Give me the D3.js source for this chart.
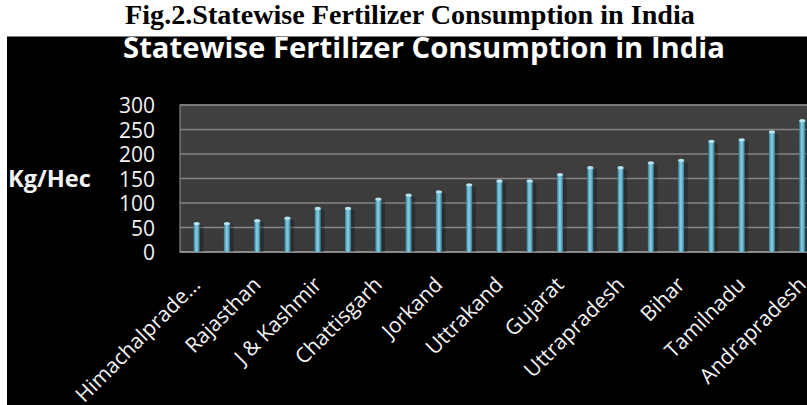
<!DOCTYPE html>
<html>
<head>
<meta charset="utf-8">
<script src="https://cdn.jsdelivr.net/npm/d3@7"></script>
<style>
  html, body { margin: 0; padding: 0; background: #ffffff; }
  svg { display: block; }
</style>
</head>
<body>
<script>
// ---- data ----
const states = [
  "Himachalpradesh", "Assam", "Rajasthan", "Orissa", "J & Kashmir", "Madhyapradesh",
  "Chattisgarh", "Kerala", "Jorkand", "Maharashtra", "Uttrakand", "Karnataka",
  "Gujarat", "Westbengal", "Uttrapradesh", "Haryana", "Bihar", "Pondicherry",
  "Tamilnadu", "Punjab", "Andrapradesh"
];
const shownLabels = [
  "Himachalprade...", "", "Rajasthan", "", "J & Kashmir", "",
  "Chattisgarh", "", "Jorkand", "", "Uttrakand", "",
  "Gujarat", "", "Uttrapradesh", "", "Bihar", "",
  "Tamilnadu", "", "Andrapradesh"
];
const kgPerHec = [
  58, 58, 64, 69, 89, 89,
  108, 116, 123, 137, 145, 145,
  158, 172, 172, 182, 187, 226,
  229, 245, 268
];
const yTicks = [0, 50, 100, 150, 200, 250, 300];
const figTitle = "Fig.2.Statewise Fertilizer Consumption in India";
const chartTitle = "Statewise Fertilizer Consumption in India";
const yAxisTitle = "Kg/Hec";

// ---- layout ----
const W = 807, H = 405;
const plot = { left: 180, top: 105, bottom: 252, right: 817.4 };

const svg = d3.select("body").append("svg")
  .attr("width", W).attr("height", H);

const defs = svg.append("defs");
const barGrad = defs.append("linearGradient").attr("id", "barGrad")
  .attr("x1", "0%").attr("x2", "100%").attr("y1", "0%").attr("y2", "0%");
barGrad.append("stop").attr("offset", "0%").attr("stop-color", "#327d98");
barGrad.append("stop").attr("offset", "40%").attr("stop-color", "#84cbe1");
barGrad.append("stop").attr("offset", "60%").attr("stop-color", "#7ac2da");
barGrad.append("stop").attr("offset", "100%").attr("stop-color", "#2f748d");

const plotGrad = defs.append("linearGradient").attr("id", "plotGrad")
  .attr("x1", "0%").attr("x2", "0%").attr("y1", "0%").attr("y2", "100%");
plotGrad.append("stop").attr("offset", "0%").attr("stop-color", "#404040");
plotGrad.append("stop").attr("offset", "100%").attr("stop-color", "#3a3a3a");

// white page + black chart area
svg.append("rect").attr("x", 0).attr("y", 0).attr("width", W).attr("height", H).attr("fill", "#ffffff");
svg.append("rect").attr("x", 7).attr("y", 36.5).attr("width", W - 7).attr("height", H - 36.5).attr("fill", "#000000");

// fit text width helper
function fitWidth(sel, target) {
  const len = sel.node().getComputedTextLength();
  const fs = parseFloat(sel.attr("font-size"));
  sel.attr("font-size", (fs * target / len).toFixed(2));
}

// figure caption
const fig = svg.append("text")
  .attr("x", 410).attr("y", 23.5)
  .attr("text-anchor", "middle")
  .attr("font-family", "'Liberation Serif', 'DejaVu Serif', serif")
  .attr("font-weight", "bold")
  .attr("font-size", 22)
  .attr("fill", "#000000")
  .text(figTitle);
fitWidth(fig, 570);

// chart title
const ct = svg.append("text")
  .attr("x", 424).attr("y", 58)
  .attr("text-anchor", "middle")
  .attr("font-family", "'Open Sans', sans-serif")
  .attr("font-weight", "bold")
  .attr("font-size", 26)
  .attr("fill", "#ffffff")
  .text(chartTitle);
fitWidth(ct, 602);

// scales
const x = d3.scaleBand()
  .domain(states)
  .range([181.5, plot.right])
  .paddingInner(0.8)
  .paddingOuter(0.4);

const y = d3.scaleLinear()
  .domain([0, 300])
  .range([plot.bottom, plot.top]);

// plot area
svg.append("rect")
  .attr("x", plot.left).attr("y", plot.top)
  .attr("width", plot.right - plot.left).attr("height", plot.bottom - plot.top)
  .attr("fill", "url(#plotGrad)")
  .attr("stroke", "#858585").attr("stroke-width", 1.2);

// gridlines
svg.append("g")
  .selectAll("line")
  .data(yTicks)
  .join("line")
  .attr("x1", plot.left).attr("x2", plot.right)
  .attr("y1", d => y(d)).attr("y2", d => y(d))
  .attr("stroke", d => d === 0 ? "#9a9a9a" : "#858585")
  .attr("stroke-width", 1.3);

// y axis
const yAxis = d3.axisLeft(y).tickValues(yTicks).tickSize(0).tickPadding(0);
const yg = svg.append("g").attr("transform", "translate(155,0)").call(yAxis);
yg.select(".domain").remove();
yg.selectAll("text")
  .attr("font-family", "'Open Sans', sans-serif")
  .attr("font-size", 21)
  .attr("fill", "#f2f2f2")
  .attr("dy", "0.36em");

// y axis title
const yt = svg.append("text")
  .attr("x", 8).attr("y", 187)
  .attr("font-family", "'Open Sans', sans-serif")
  .attr("font-weight", "bold")
  .attr("font-size", 22)
  .attr("fill", "#f2f2f2")
  .text(yAxisTitle);
fitWidth(yt, 83);

// bars (cylinders)
const bw = x.bandwidth();
const bars = svg.append("g");
bars.selectAll("rect.shadow")
  .data(kgPerHec)
  .join("rect")
  .attr("class", "shadow")
  .attr("x", (d, i) => x(states[i]) + bw * 0.6)
  .attr("y", d => y(d) + 2)
  .attr("width", bw)
  .attr("height", d => plot.bottom - y(d) - 2)
  .attr("fill", "#000000")
  .attr("opacity", 0.25);
bars.selectAll("rect.bar")
  .data(kgPerHec)
  .join("rect")
  .attr("class", "bar")
  .attr("x", (d, i) => x(states[i]))
  .attr("y", d => y(d))
  .attr("width", bw)
  .attr("height", d => plot.bottom - y(d))
  .attr("fill", "url(#barGrad)");
bars.selectAll("ellipse.cap")
  .data(kgPerHec)
  .join("ellipse")
  .attr("class", "cap")
  .attr("cx", (d, i) => x(states[i]) + bw / 2)
  .attr("cy", d => y(d))
  .attr("rx", bw / 2)
  .attr("ry", 1.6)
  .attr("fill", "#b5e3f0");

// x axis
const xAxis = d3.axisBottom(x)
  .tickSize(0)
  .tickFormat((d, i) => shownLabels[i]);
const xg = svg.append("g").attr("transform", `translate(0,${plot.bottom})`).call(xAxis);
xg.select(".domain").remove();
xg.selectAll("text")
  .attr("font-family", "'Open Sans', sans-serif")
  .attr("font-size", 21)
  .attr("fill", "#f2f2f2")
  .attr("text-anchor", "end")
  .attr("x", 0).attr("y", 0).attr("dy", 0)
  .attr("transform", "translate(5,34) rotate(-45)");
</script>
</body>
</html>
